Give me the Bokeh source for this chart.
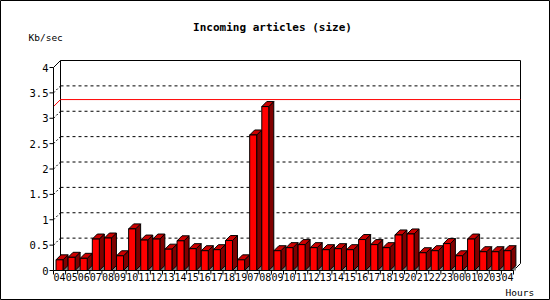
from bokeh.plotting import figure
from bokeh.models import Range1d
from bokeh.core.properties import value
from bokeh.embed import file_html
from bokeh.resources import INLINE

# ---- data ----
hours = ["04", "05", "06", "07", "08", "09", "10", "11", "12", "13", "14", "15",
         "16", "17", "18", "19",
         "07", "08", "09", "10", "11", "12", "13", "14", "15", "16", "17", "18",
         "19", "20", "21", "22", "23",
         "00", "01", "02", "03", "04"]
kbsec = [0.21, 0.26, 0.24, 0.62, 0.64, 0.29, 0.82, 0.60, 0.62, 0.42, 0.585, 0.43,
         0.39, 0.41, 0.59, 0.21,
         2.67, 3.23, 0.39, 0.45, 0.51, 0.45, 0.41, 0.43, 0.41, 0.61, 0.51, 0.45,
         0.70, 0.72, 0.35, 0.39, 0.53,
         0.29, 0.62, 0.37, 0.37, 0.39]
y_ticks = [0, 0.5, 1, 1.5, 2, 2.5, 3, 3.5, 4]
y_tick_labels = ["0", "0.5", "1", "1.5", "2", "2.5", "3", "3.5", "4"]
y_max = 4
title_text = "Incoming articles (size)"
y_title = "Kb/sec"
x_title = "Hours"

# ---- layout (pixel geometry of the chart) ----
W, H = 550, 300
N = len(hours)
X0, Y0 = 53.0, 270.0           # front origin in pixels
S = 460.0 / N                  # pixels per slot
U = 50.75                      # pixels per Kb/sec


def px_x(px):
    return (px - X0) / S


def px_y(py):
    return (Y0 - py) / U


DX, DY = 7.0 / S, 7.0 / U      # back-wall depth
bdx, bdy = 5.0 / S, 5.0 / U    # bar depth
bl, bw = 2.5 / S, 7.0 / S      # bar front offset and width

p = figure(width=W, height=H, output_backend="svg", toolbar_location=None,
           x_range=Range1d(px_x(0), px_x(W)), y_range=Range1d(px_y(H), px_y(0)),
           x_axis_location=None, y_axis_location=None, min_border=0, title=None)
p.grid.visible = False
p.outline_line_color = "black"
p.outline_line_width = 1
p.background_fill_color = "white"
p.border_fill_color = "white"

# back wall grid (dotted)
grid_vals = [v for v in y_ticks if 0 < v < y_max]
p.segment(x0=[DX] * len(grid_vals), y0=[v + DY for v in grid_vals],
          x1=[N + DX] * len(grid_vals), y1=[v + DY for v in grid_vals],
          line_color="black", line_width=1, line_dash="3 3")
p.segment(x0=[0] * len(grid_vals), y0=grid_vals,
          x1=[DX] * len(grid_vals), y1=[v + DY for v in grid_vals],
          line_color="black", line_width=1, line_dash="2 2")

# back wall frame
p.line([0, DX, N + DX, N + DX], [y_max, y_max + DY, y_max + DY, DY],
       line_color="black", line_width=1)
p.line([DX, DX], [DY, y_max + DY], line_color="black", line_width=1)
p.line([N, N + DX], [0, DY], line_color="black", line_width=1)

# max line
mx = max(kbsec)
p.line([0, DX, N + DX], [mx, mx + DY, mx + DY], line_color="red", line_width=1)

# bars
lefts = [i + bl for i in range(N)]
rights = [l + bw for l in lefts]
floor_xs = [[l, r + bdx, r + bdx, l + bdx] for l, r in zip(lefts, rights)]
floor_ys = [[0, 0, bdy, bdy] for _ in range(N)]
p.patches(floor_xs, floor_ys, fill_color="#808080", line_color=None)

side_xs = [[r, r, r + bdx, r + bdx] for r in rights]
side_ys = [[0, v, v + bdy, bdy] for v in kbsec]
p.patches(side_xs, side_ys, fill_color="#800000", line_color="black", line_width=1)

top_xs = [[l, r, r + bdx, l + bdx] for l, r in zip(lefts, rights)]
top_ys = [[v, v, v + bdy, v + bdy] for v in kbsec]
p.patches(top_xs, top_ys, fill_color="#cc0000", line_color="black", line_width=1)

p.quad(left=lefts, right=rights, bottom=[0] * N, top=kbsec,
       fill_color="#ff0000", line_color="black", line_width=1)

# front axes
p.line([0, 0], [0, y_max], line_color="black", line_width=1)
p.segment(x0=[-4.0 / S] * len(y_ticks), y0=y_ticks, x1=[0] * len(y_ticks), y1=y_ticks,
          line_color="black", line_width=1)
p.line([0, N], [0, 0], line_color="black", line_width=1)
p.segment(x0=list(range(N + 1)), y0=[0] * (N + 1), x1=list(range(N + 1)),
          y1=[-4.0 / U] * (N + 1), line_color="black", line_width=1)

mono = value("DejaVu Sans Mono")
# tick labels
p.text(x=[px_x(48)] * len(y_ticks), y=y_ticks, text=y_tick_labels,
       text_font=mono, text_font_size="10.5px", text_align="right",
       text_baseline="middle", text_color="black")
p.text(x=[i + 0.5 for i in range(N)], y=[px_y(272.5)] * N, text=hours,
       text_font=mono, text_font_size="10px", text_align="center",
       text_baseline="top", text_color="black")

# titles
p.text(x=[px_x(272)], y=[px_y(27)], text=[title_text], text_font=mono,
       text_font_size="11px", text_font_style="bold", text_align="center",
       text_baseline="middle", text_color="black")
p.text(x=[px_x(28)], y=[px_y(37)], text=[y_title], text_font=mono,
       text_font_size="9.5px", text_align="left", text_baseline="middle",
       text_color="black")
p.text(x=[px_x(505)], y=[px_y(292)], text=[x_title], text_font=mono,
       text_font_size="9.5px", text_align="left", text_baseline="middle",
       text_color="black")

open("out.html", "w").write(file_html(p, INLINE))
